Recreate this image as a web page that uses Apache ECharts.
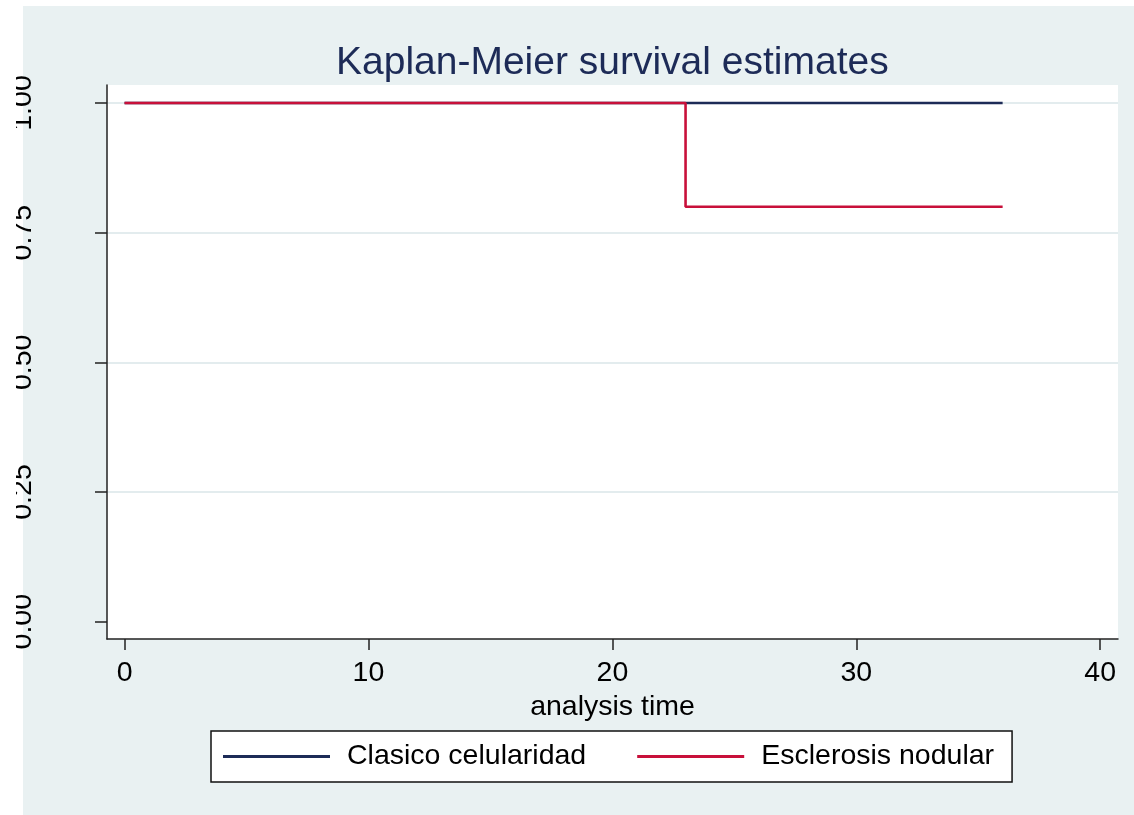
<!DOCTYPE html>
<html>
<head>
<meta charset="utf-8">
<script src="https://cdn.jsdelivr.net/npm/echarts@6/dist/echarts.min.js"></script>
<style>
html,body{margin:0;padding:0;background:#fff;}
#chart{width:1134px;height:815px;}
</style>
</head>
<body>
<div id="chart"></div>
<script>
// ---- data ----
var titleText = 'Kaplan-Meier survival estimates';
var xAxisTitle = 'analysis time';
var seriesNames = ['Clasico celularidad', 'Esclerosis nodular'];
var clasicoTime = [0, 36];
var clasicoSurv = [1, 1];
var escTime = [0, 23, 36];
var escSurv = [1, 0.8, 0.8];
var xTicks = [0, 10, 20, 30, 40];
var yTicks = [0, 0.25, 0.5, 0.75, 1];

function pairs(xs, ys) { return xs.map(function (x, i) { return [x, ys[i]]; }); }

var FONT = "'Liberation Sans', Arial, Helvetica, sans-serif";
var BG = '#E9F1F2';
var GRID = '#E3ECEE';
var AXIS = '#222222';
var BLUE = '#1D2B57';
var RED = '#C8103A';

var chart = echarts.init(document.getElementById('chart'), null, {renderer: 'canvas'});
chart.setOption({
  animation: false,
  backgroundColor: BG,
  textStyle: {fontFamily: FONT},
  title: {
    text: titleText,
    left: 336,
    top: 44,
    padding: 0,
    textStyle: {fontSize: 39, fontWeight: 'normal', color: '#1D2B57', fontFamily: FONT}
  },
  grid: {
    left: 107, top: 85, right: 16, bottom: 176,
    show: true, backgroundColor: '#ffffff', borderWidth: 0,
    containLabel: false
  },
  xAxis: {
    type: 'value',
    min: -0.72, max: 40.73,
    name: xAxisTitle,
    nameLocation: 'middle',
    nameGap: 44,
    nameTextStyle: {fontSize: 28.5, color: '#000', fontFamily: FONT},
    axisLine: {show: true, onZero: false, lineStyle: {color: AXIS, width: 1.5}},
    axisTick: {show: true, length: 11, customValues: xTicks, lineStyle: {color: AXIS, width: 1.5}},
    axisLabel: {customValues: xTicks, margin: 20, fontSize: 28.5, color: '#000', fontFamily: FONT},
    splitLine: {show: false}
  },
  yAxis: {
    type: 'value',
    min: -0.0334, max: 1.0347,
    axisLine: {show: true, onZero: false, lineStyle: {color: AXIS, width: 1.5}},
    axisTick: {show: true, length: 12, customValues: yTicks, lineStyle: {color: AXIS, width: 1.5}},
    axisLabel: {
      customValues: yTicks, rotate: 90, margin: 69, fontSize: 28.5, color: '#000', fontFamily: FONT,
      formatter: function (v) { return Number(v).toFixed(2); }
    },
    splitLine: {show: true, lineStyle: {color: ['rgba(0,0,0,0)', GRID, GRID, GRID, GRID], width: 2}}
  },
  legend: {
    data: seriesNames,
    left: 211, top: 731,
    padding: [11, 18, 11, 12],
    icon: 'rect',
    itemWidth: 107, itemHeight: 3, itemGap: 51,
    backgroundColor: '#ffffff',
    borderColor: '#111111', borderWidth: 1.5, borderRadius: 0,
    textStyle: {fontSize: 28.5, color: '#000', fontFamily: FONT, padding: [0, 0, 0, 12]}
  },
  graphic: [
    {type: 'rect', left: 0, top: 0, z: -10, shape: {x: 0, y: 0, width: 23, height: 815}, style: {fill: '#ffffff'}},
    {type: 'rect', left: 0, top: 0, z: -10, shape: {x: 0, y: 0, width: 1134, height: 6}, style: {fill: '#ffffff'}},
    {type: 'rect', left: 0, top: 0, z: 100, shape: {x: 0, y: 0, width: 16, height: 815}, style: {fill: '#ffffff'}}
  ],
  series: [
    {
      name: seriesNames[0], type: 'line', step: 'end', symbol: 'none', showSymbol: false,
      data: pairs(clasicoTime, clasicoSurv),
      lineStyle: {color: BLUE, width: 2.6}, itemStyle: {color: BLUE}, z: 2
    },
    {
      name: seriesNames[1], type: 'line', step: 'end', symbol: 'none', showSymbol: false,
      data: pairs(escTime, escSurv),
      lineStyle: {color: RED, width: 2.6}, itemStyle: {color: RED}, z: 3
    }
  ]
});
</script>
</body>
</html>
